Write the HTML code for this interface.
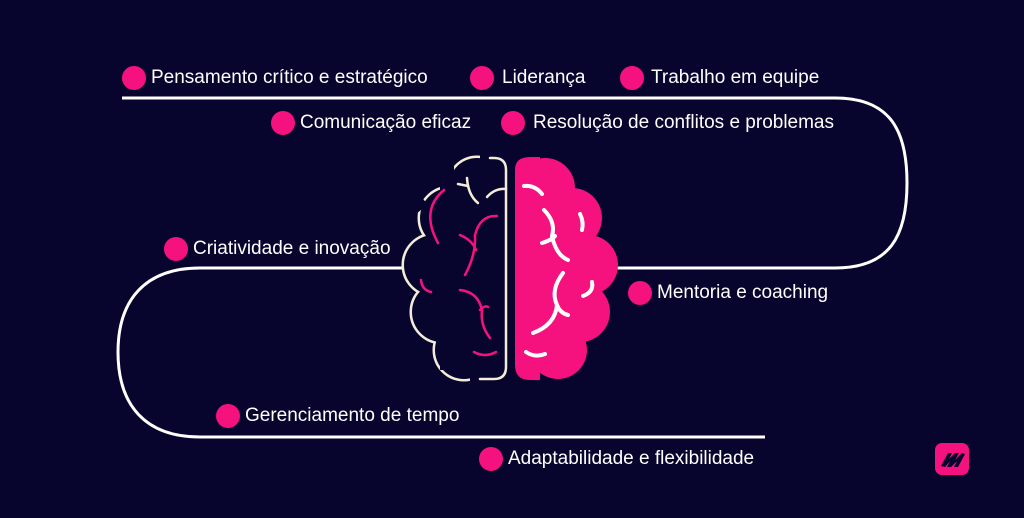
<!DOCTYPE html>
<html><head><meta charset="utf-8"><style>
html,body{margin:0;padding:0;background:#07042e;}
body{width:1024px;height:518px;position:relative;overflow:hidden;font-family:"Liberation Sans",sans-serif;}
.t{position:absolute;color:#fff;font-size:19px;line-height:22px;white-space:nowrap;}
.d{position:absolute;width:24px;height:24px;border-radius:50%;background:#f5127f;}
</style></head><body>
<svg width="1024" height="518" style="position:absolute;left:0;top:0">
<g fill="none" stroke="#fff" stroke-width="3">
<path d="M122,98 H835 C890,98 907,130 907,183 C907,236 890,268 835,268 H617"/>
<path d="M405,268 H200 C145,268 118,300 118,352 C118,405 145,437 200,437 H765"/>
</g>
<!-- left outline via stroked union -->
<g stroke="#f3ecd9" stroke-width="5" fill="none">
<circle cx="477" cy="186" r="28"/>
<circle cx="450" cy="218" r="30"/>
<circle cx="434" cy="265" r="30"/>
<circle cx="442" cy="312" r="30"/>
<circle cx="464" cy="350" r="29"/>
</g>
<g fill="#07042e">
<circle cx="477" cy="186" r="28"/>
<circle cx="450" cy="218" r="30"/>
<circle cx="434" cy="265" r="30"/>
<circle cx="442" cy="312" r="30"/>
<circle cx="464" cy="350" r="29"/>
<rect x="440" y="170" width="70" height="200"/>
<rect x="480" y="150" width="30" height="30"/>
<rect x="470" y="360" width="40" height="30"/>
<rect x="412" y="200" width="14" height="10" transform="rotate(-40 419 205)"/>
<rect x="444" y="156" width="10" height="14"/>
<rect x="400" y="330" width="14" height="10"/>
</g>
<g fill="none" stroke="#f3ecd9" stroke-width="2.5" stroke-linecap="round">
<path d="M490,158 H494 Q506,158 506,170 V367 Q506,379 494,379 H480"/>
<path d="M458,184 L468,186"/>
<path d="M487,197 Q495,188 506,189"/>
<path d="M467,178 Q468,195 478,203"/>
</g>
<!-- pink half -->
<g fill="#f5127f">
<path d="M515,170 Q515,157 530,157 L540,157 L540,380 L530,380 Q515,380 515,365 Z"/>
<circle cx="545" cy="188" r="30"/>
<circle cx="572" cy="218" r="30"/>
<circle cx="588" cy="265" r="30"/>
<circle cx="580" cy="312" r="30"/>
<circle cx="558" cy="350" r="29"/>
<rect x="530" y="200" width="50" height="140"/>
</g>
<g fill="none" stroke="#fff" stroke-width="4" stroke-linecap="round">
<path d="M524,186 Q535,185 542,194"/>
<path d="M544,210 Q556,222 552,236 M542,243 Q552,240 555,236 M552,236 Q556,255 568,260"/>
<path d="M580,214 Q584,222 582,230"/>
<path d="M563,273 Q550,290 557,305 Q560,313 568,315 M557,305 Q555,325 533,333"/>
<path d="M592,282 Q594,292 583,296"/>
<path d="M526,352 Q535,358 545,354"/>
</g>
<g fill="none" stroke="#f5127f" stroke-width="2.5" stroke-linecap="round">
<path d="M444,190 Q420,210 438,243"/>
<path d="M497,216 Q480,215 475,235 Q476,255 465,275"/>
<path d="M460,235 Q472,240 476,250"/>
<path d="M421,280 Q422,290 431,292"/>
<path d="M460,290 Q478,292 482,310 Q480,325 490,338"/>
<path d="M480,310 Q485,305 488,307"/>
<path d="M474,352 Q485,358 496,352"/>
</g>
<!-- logo -->
<rect x="935" y="443" width="34" height="32" rx="7" fill="#f5127f"/>
<path d="M941,466 L948,453 L952,453 L949,459 L955,453 L959,453 L955,460 L962,453 L965,454 L958,467 L954,467 L957,461 L951,467 L947,467 L950,461 L945,467 Z" fill="#07042e"/>
</svg>
<div class="d" style="left:122px;top:66px"></div><div class="t" style="left:151px;top:67px">Pensamento crítico e estratégico</div>
<div class="d" style="left:470px;top:66px"></div><div class="t" style="left:502px;top:67px">Liderança</div>
<div class="d" style="left:620px;top:66px"></div><div class="t" style="left:651px;top:67px">Trabalho em equipe</div>
<div class="d" style="left:271px;top:111px"></div><div class="t" style="left:300px;top:112px">Comunicação eficaz</div>
<div class="d" style="left:501px;top:111px"></div><div class="t" style="left:533px;top:112px">Resolução de conflitos e problemas</div>
<div class="d" style="left:164px;top:237px"></div><div class="t" style="left:193px;top:238px">Criatividade e inovação</div>
<div class="d" style="left:628px;top:281px"></div><div class="t" style="left:657px;top:282px">Mentoria e coaching</div>
<div class="d" style="left:216px;top:404px"></div><div class="t" style="left:245px;top:405px">Gerenciamento de tempo</div>
<div class="d" style="left:479px;top:447px"></div><div class="t" style="left:508px;top:448px">Adaptabilidade e flexibilidade</div>
</body></html>
